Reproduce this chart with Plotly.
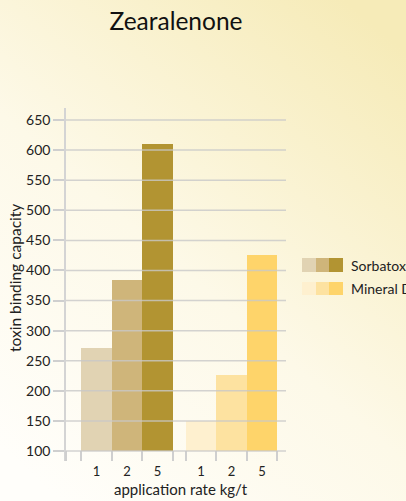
import base64
import plotly.graph_objects as go

# ---- data ----
title_text = "Zearalenone"
series_names = ["Sorbatox", "Mineral D"]
rates = ["1", "2", "5"]
sorbatox_values = [271, 384, 611]
mineral_values = [150, 227, 425]
y_ticks = [100, 150, 200, 250, 300, 350, 400, 450, 500, 550, 600, 650]
x_title = "application rate kg/t"
y_title = "toxin binding capacity"

# ---- styles ----
sorbatox_colors = ["#E1D3B3", "#CFB57A", "#B29432"]
mineral_colors = ["#FEF0CF", "#FDE2A0", "#FED46A"]
FONT = "Lato"
W, H = 406, 501
L, R, T, B = 66, 120, 108, 40
PW, PH = W - L - R, H - T - B
BASE = 100
group_gap = 0.43
group_start = [0.5, 0.5 + len(rates) + group_gap]

fig = go.Figure()
all_series = [sorbatox_values, mineral_values]
all_colors = [sorbatox_colors, mineral_colors]
centers, edges = [], [0]
for g, (vals, cols) in enumerate(zip(all_series, all_colors)):
    xs = [group_start[g] + i + 0.5 for i in range(len(vals))]
    centers += xs
    edges += [group_start[g] + i for i in range(len(vals) + 1)]
    fig.add_trace(go.Bar(
        x=xs, y=[v - BASE for v in vals], base=BASE, width=1.0,
        marker=dict(color=cols, line=dict(width=0)),
        name=series_names[g], showlegend=False,
    ))

# gridlines drawn above bars
for t in y_ticks:
    fig.add_shape(type="line", xref="paper", yref="y", x0=0, x1=1, y0=t, y1=t,
                  line=dict(color="rgba(200,200,200,0.8)", width=1.5), layer="above")

def px_x(p):
    return (p - L) / PW

def px_y(p):
    return (H - B - p) / PH

# custom legend with three swatches per series
sw_x = [302, 316, 329, 343]
rows = [(258, 272), (282, 295)]
for s, (cols, (y0, y1)) in enumerate(zip(all_colors, rows)):
    for i, c in enumerate(cols):
        fig.add_shape(type="rect", xref="paper", yref="paper",
                      x0=px_x(sw_x[i]), x1=px_x(sw_x[i + 1]),
                      y0=px_y(y1), y1=px_y(y0),
                      fillcolor=c, line=dict(width=0))
    fig.add_annotation(text=series_names[s], xref="paper", yref="paper",
                       x=px_x(349), y=px_y((y0 + y1) / 2), xanchor="left", yanchor="middle",
                       showarrow=False, font=dict(family=FONT, size=14, color="#222"))

# axis titles
fig.add_annotation(text=x_title, xref="paper", yref="paper", x=px_x(181), y=px_y(489),
                   xanchor="center", yanchor="middle", showarrow=False,
                   font=dict(family=FONT, size=15, color="#222"))
fig.add_annotation(text=y_title, xref="paper", yref="paper", x=px_x(15), y=px_y(278),
                   xanchor="center", yanchor="middle", textangle=-90, showarrow=False,
                   font=dict(family=FONT, size=15.5, color="#222"))

# gradient background
svg = f'''<svg xmlns="http://www.w3.org/2000/svg" width="{W}" height="{H}" preserveAspectRatio="none">
<defs><linearGradient id="g" x1="0.15" y1="1" x2="0.85" y2="0">
<stop offset="0" stop-color="#FFFEFA"/><stop offset="0.45" stop-color="#FDF9E8"/>
<stop offset="1" stop-color="#F6EBB8"/></linearGradient></defs>
<rect width="100%" height="100%" fill="url(#g)"/></svg>'''
src = "data:image/svg+xml;base64," + base64.b64encode(svg.encode()).decode()
fig.add_layout_image(source=src, xref="paper", yref="paper",
                     x=-L / PW, y=1 + T / PH, sizex=W / PW, sizey=H / PH,
                     xanchor="left", yanchor="top", sizing="stretch", layer="below")

x_max = (W - R - L) / 30.5
fig.update_layout(
    width=W, height=H,
    margin=dict(l=L, r=R, t=T, b=B, pad=0),
    paper_bgcolor="rgba(0,0,0,0)", plot_bgcolor="rgba(0,0,0,0)",
    font=dict(family=FONT, color="#222"),
    title=dict(text=title_text, x=0.5, xref="paper", xanchor="center",
               y=1 - 21 / H, yref="container", yanchor="middle",
               font=dict(family=FONT, size=24.5, color="#111")),
    bargap=0,
    showlegend=False,
)
fig.update_xaxes(
    automargin=False,
    range=[0, x_max], tickvals=centers, ticktext=rates * 2, ticks="",
    ticklabelstandoff=1,
    showgrid=False, zeroline=False, showline=False,
    tickfont=dict(size=13, color="#222"),
    minor=dict(tickmode="array", tickvals=edges, ticks="inside", ticklen=10,
               tickcolor="#cfcfcf", tickwidth=1.5, showgrid=False),
)
fig.update_yaxes(
    automargin=False,
    range=[83.4, 670], tickvals=y_ticks, ticks="outside", ticklen=11,
    tickcolor="#cfcfcf", tickwidth=1.5, showgrid=False, zeroline=False,
    showline=True, linecolor="#d4d4d4", linewidth=1.5,
    tickfont=dict(size=14, color="#222"),
)
fig.write_html("out.html", config={"displayModeBar": False},
               post_script="document.body.style.margin='0';document.body.style.overflow='hidden';")
